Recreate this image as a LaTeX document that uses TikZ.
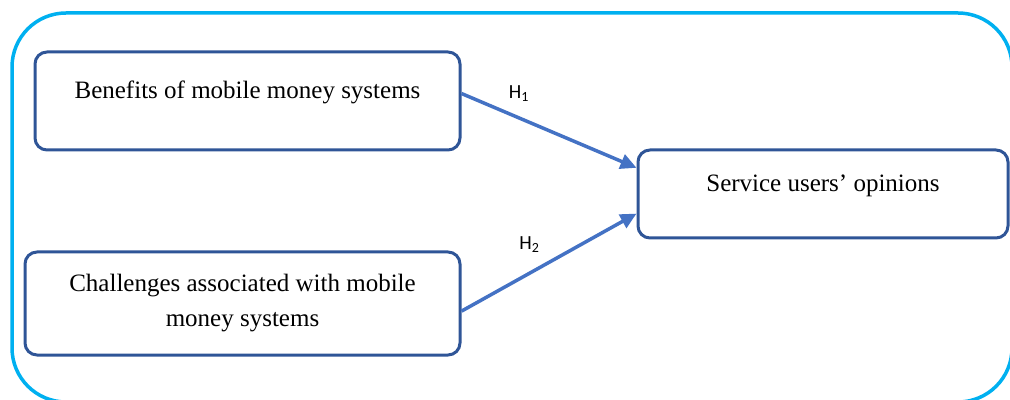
\documentclass[tikz,border=0pt]{standalone}
\usepackage{fontspec}
\setmainfont{Liberation Serif}
\newfontfamily\hfont{Carlito}
\usetikzlibrary{calc}
\usetikzlibrary{positioning}
\usetikzlibrary{arrows.meta}
\definecolor{frameblue}{HTML}{00B0F0}
\definecolor{boxblue}{HTML}{2F5597}
\definecolor{arrowblue}{HTML}{4472C4}
\tikzstyle{factorbox} = [draw=boxblue, line width=1.5pt, rounded corners=6pt, inner sep=0pt, align=center, font=\fontsize{12.5}{17.5}\selectfont]
\tikzstyle{raisedtext} = [text height=9pt, text depth=11pt]
\tikzstyle{hypline} = [draw=arrowblue, line width=1.75pt, -{Triangle[length=8pt,width=7.5pt]}]
\tikzstyle{hyplabel} = [font=\hfont\fontsize{10}{12}\selectfont]

\begin{document}
\begin{tikzpicture}[x=0.5pt, y=-0.5pt]
    \useasboundingbox (0,0) rectangle (1010,400);
    \clip (0,0) rectangle (1010,400);
    \draw[frameblue, line width=1.75pt, rounded corners=27pt] (12,13) rectangle (1012,402);

    \node[factorbox, raisedtext, minimum width=212.5pt, minimum height=49pt] (benefits) at (247.5,101) {Benefits of mobile money systems};
    \node[factorbox, minimum width=217.5pt, minimum height=51.5pt] (challenges) at ($(benefits)+(-5,202.5)$) {Challenges associated with mobile\\money systems};
    \node[factorbox, raisedtext, minimum width=185pt, minimum height=44pt] (opinions) at ($(benefits)+(575.5,93)$) {Service users’ opinions};

    \draw[hypline] (benefits.2) -- node[hyplabel, pos=0.33, yshift=12pt] (h_one) {H\textsubscript{1}} (opinions.172);
    \draw[hypline] (challenges.-2) -- node[hyplabel, pos=0.39, yshift=14.5pt] (h_two) {H\textsubscript{2}} (opinions.186);
\end{tikzpicture}
\end{document}
